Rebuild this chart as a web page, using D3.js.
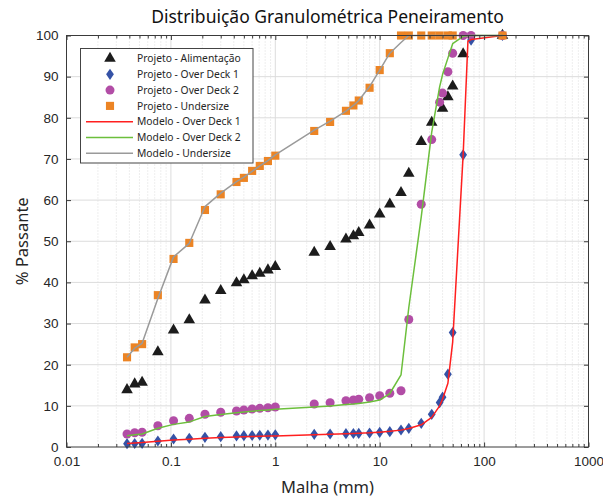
<!DOCTYPE html>
<html>
<head>
<meta charset="utf-8">
<script src="https://cdn.jsdelivr.net/npm/d3@7"></script>
<style>
  html, body { margin: 0; padding: 0; background: #fff; }
  svg { display: block; font-family: "Noto Sans", "Open Sans", sans-serif; }
</style>
</head>
<body>
<svg id="chart" width="603" height="497"></svg>
<script>
// Sieve openings (mm) and % passing for each stream
const sievesFine = [0.038, 0.045, 0.053, 0.075, 0.106, 0.150, 0.212, 0.300, 0.425, 0.500, 0.600, 0.710, 0.850, 1.00];
const sievesCoarse = [2.36, 3.35, 4.75, 5.60, 6.30, 8.00, 10.0, 12.5, 16.0, 19.0, 25.0, 31.5];

const alimX = [...sievesFine, ...sievesCoarse, 40.0, 45.0, 50.0, 63.0, 150];
const alimY = [13.9, 15.3, 15.7, 23.1, 28.4, 30.9, 35.7, 38.0, 39.9, 40.6, 41.6, 42.2, 43.0, 43.8,
               47.3, 48.7, 50.5, 51.3, 52.1, 53.9, 56.6, 59.0, 61.8, 66.5, 74.2, 78.9,
               82.3, 85.1, 87.7, 95.5, 100];

const od1X = [...sievesFine, ...sievesCoarse, 37.5, 40.0, 45.0, 50.0, 63.0, 75.0, 150];
const od1Y = [0.8, 0.85, 0.9, 1.46, 1.94, 2.1, 2.35, 2.5, 2.7, 2.75, 2.8, 2.85, 2.9, 2.95,
              3.08, 3.16, 3.24, 3.28, 3.3, 3.4, 3.56, 3.73, 4.13, 4.53, 5.75, 7.94,
              10.8, 12.1, 17.7, 27.8, 71.0, 98.9, 100];

const od2X = [...sievesFine, ...sievesCoarse, 37.5, 40.0, 45.0, 50.0, 63.0, 75.0, 150];
const od2Y = [3.16, 3.47, 3.57, 5.18, 6.39, 6.97, 7.95, 8.43, 8.75, 8.99, 9.23, 9.40, 9.55, 9.72,
              10.45, 10.77, 11.25, 11.42, 11.59, 11.98, 12.47, 13.05, 13.68, 31.0, 59.0, 74.7,
              83.8, 86.0, 91.2, 95.7, 100, 100, 100];

const underX = [...sievesFine, 2.36, 3.35, 4.75, 5.60, 6.30, 8.00, 10.0, 12.5, 16.0, 19.0, 25.0, 31.5, 37.5, 45.0, 50.0, 150];
const underY = [21.8, 24.2, 25.0, 36.9, 45.7, 49.6, 57.6, 61.4, 64.4, 65.4, 67.1, 68.3, 69.5, 70.8,
                76.8, 79.0, 81.7, 83.0, 84.2, 87.3, 91.6, 95.7, 100, 100, 100, 100, 100, 100, 100, 100];

// Model curves
const modelOd1X = [...sievesFine, ...sievesCoarse, 37.5, 40.0, 45.0, 50.0, 63.0, 70.0, 75.0, 150];
const modelOd1Y = [0.85, 1.0, 1.1, 1.4, 1.7, 1.9, 2.1, 2.3, 2.45, 2.5, 2.55, 2.6, 2.65, 2.7,
                   3.0, 3.1, 3.25, 3.3, 3.35, 3.45, 3.6, 3.8, 4.1, 4.5, 5.4, 7.2,
                   10.0, 11.6, 15.5, 25.5, 71.0, 98.6, 99.0, 100];

const modelOd2X = [...sievesFine, ...sievesCoarse, 37.5, 40.0, 45.0, 50.0, 63.0, 75.0, 150];
const modelOd2Y = [2.75, 3.0, 3.15, 4.55, 5.5, 6.1, 7.4, 7.9, 8.3, 8.5, 8.7, 8.85, 9.0, 9.15,
                   9.7, 9.95, 10.3, 10.45, 10.6, 10.95, 11.4, 13.0, 17.5, 33.9, 55.9, 76.5,
                   87.5, 90.5, 94.5, 98.0, 99.8, 100, 100];

const modelUnderX = [...sievesFine, ...sievesCoarse, 37.5, 45.0, 50.0, 150];
const modelUnderY = [21.8, 24.0, 25.2, 36.1, 46.2, 49.5, 58.4, 61.7, 64.5, 65.6, 67.0, 68.3, 69.6, 71.0,
                     77.0, 79.2, 81.6, 83.0, 84.2, 87.6, 91.6, 95.7, 98.3, 100, 100, 100,
                     100, 100, 100, 100];

const xTicks = [0.01, 0.1, 1, 10, 100, 1000];
const xTickLabels = ["0.01", "0.1", "1", "10", "100", "1000"];
const yTicks = [0, 10, 20, 30, 40, 50, 60, 70, 80, 90, 100];

const titleText = "Distribuição Granulométrica Peneiramento";
const xLabel = "Malha (mm)";
const yLabel = "% Passante";

const legendNames = [
  "Projeto - Alimentação", "Projeto - Over Deck 1", "Projeto - Over Deck 2", "Projeto - Undersize",
  "Modelo - Over Deck 1", "Modelo - Over Deck 2", "Modelo - Undersize"
];

// ---- layout ----
const L = 66.5, R = 588.5, T = 35.5, B = 447;
const svg = d3.select("#chart");
const x = d3.scaleLog().domain([0.01, 1000]).range([L, R]);
const y = d3.scaleLinear().domain([0, 100]).range([B, T]);

const axisColor = "#3a3a3a";
const textColor = "#262626";

// minor positions 2..9 x 10^k
const minorTicks = [];
for (let k = -2; k < 3; k++) for (let m = 2; m <= 9; m++) minorTicks.push(m * Math.pow(10, k));

// grid
const grid = svg.append("g");
grid.selectAll(".minor").data(minorTicks).join("line")
  .attr("x1", d => x(d)).attr("x2", d => x(d)).attr("y1", T).attr("y2", B)
  .attr("stroke", "#d4d4d4").attr("stroke-width", 0.8).attr("stroke-dasharray", "1,2");
grid.selectAll(".majx").data(xTicks.slice(1, -1)).join("line")
  .attr("x1", d => x(d)).attr("x2", d => x(d)).attr("y1", T).attr("y2", B)
  .attr("stroke", "#dcdcdc").attr("stroke-width", 1);
grid.selectAll(".majy").data(yTicks.slice(1, -1)).join("line")
  .attr("x1", L).attr("x2", R).attr("y1", d => y(d)).attr("y2", d => y(d))
  .attr("stroke", "#dcdcdc").attr("stroke-width", 1);

// ---- markers ----
const sym = (type, size) => d3.symbol().type(type).size(size)();
function drawMarkers(xs, ys, path, color) {
  svg.append("g").selectAll("path").data(xs.map((d, i) => [d, ys[i]])).join("path")
    .attr("d", path)
    .attr("transform", d => `translate(${x(d[0])},${y(d[1])})`)
    .attr("fill", color);
}
const triPath = sym(d3.symbolTriangle, 58);
const diaPath = "M0,-5.6L3.9,0L0,5.6L-3.9,0Z";
const circPath = sym(d3.symbolCircle, 64);
const sqPath = sym(d3.symbolSquare, 66);

const cTri = "#1c1c1c", cDia = "#3552a6", cCirc = "#b24da6", cSq = "#ec8424";
const cRed = "#ff1f1f", cGreen = "#6cbf3c", cGray = "#9a9a9a";

drawMarkers(alimX, alimY, triPath, cTri);
drawMarkers(od1X, od1Y, diaPath, cDia);
drawMarkers(od2X, od2Y, circPath, cCirc);
drawMarkers(underX, underY, sqPath, cSq);

// ---- model lines ----
const line = d3.line().x(d => x(d[0])).y(d => y(d[1]));
function drawLine(xs, ys, color) {
  svg.append("path").datum(xs.map((d, i) => [d, ys[i]]))
    .attr("d", line).attr("fill", "none").attr("stroke", color)
    .attr("stroke-width", 1.5).attr("stroke-linejoin", "round");
}
drawLine(modelOd1X, modelOd1Y, cRed);
drawLine(modelOd2X, modelOd2Y, cGreen);
drawLine(modelUnderX, modelUnderY, cGray);

// ---- axes (ticks pointing inward, box on) ----
function styleAxis(g) {
  g.select(".domain").remove();
  g.selectAll(".tick line").attr("stroke", axisColor);
  g.selectAll(".tick text").attr("fill", textColor).attr("font-size", 13.5);
}
svg.append("g").attr("transform", `translate(0,${B})`)
  .call(d3.axisBottom(x).tickValues(xTicks).tickFormat((d, i) => xTickLabels[i]).tickSize(-4.5).tickPadding(9))
  .call(styleAxis);
svg.append("g").attr("transform", `translate(0,${B})`)
  .call(d3.axisBottom(x).tickValues(minorTicks).tickFormat("").tickSize(-3))
  .call(styleAxis);
svg.append("g").attr("transform", `translate(0,${T})`)
  .call(d3.axisTop(x).tickValues(xTicks).tickFormat("").tickSize(-4.5))
  .call(styleAxis);
svg.append("g").attr("transform", `translate(0,${T})`)
  .call(d3.axisTop(x).tickValues(minorTicks).tickFormat("").tickSize(-3))
  .call(styleAxis);
svg.append("g").attr("transform", `translate(${L},0)`)
  .call(d3.axisLeft(y).tickValues(yTicks).tickFormat(d3.format("d")).tickSize(-4.5).tickPadding(8))
  .call(styleAxis);
svg.append("g").attr("transform", `translate(${R},0)`)
  .call(d3.axisRight(y).tickValues(yTicks).tickFormat("").tickSize(-4.5))
  .call(styleAxis);

svg.append("rect").attr("x", L).attr("y", T).attr("width", R - L).attr("height", B - T)
  .attr("fill", "none").attr("stroke", axisColor).attr("stroke-width", 1);

// ---- titles ----
svg.append("text").attr("x", (L + R) / 2).attr("y", 23).attr("text-anchor", "middle")
  .attr("font-size", 17.5).attr("fill", "#111").text(titleText);
svg.append("text").attr("x", (L + R) / 2).attr("y", 493).attr("text-anchor", "middle")
  .attr("font-size", 16.5).attr("fill", textColor).text(xLabel);
svg.append("text").attr("transform", `translate(28,${(T + B) / 2}) rotate(-90)`)
  .attr("text-anchor", "middle").attr("font-size", 16.5).attr("fill", textColor).text(yLabel);

// ---- legend ----
const lg = svg.append("g");
lg.append("rect").attr("x", 80.5).attr("y", 48.5).attr("width", 172.5).attr("height", 114.5)
  .attr("fill", "#fff").attr("stroke", "#444").attr("stroke-width", 1);
const rowY = i => 58.5 + i * 15.8;
const legendMarks = [
  {p: triPath, c: cTri}, {p: diaPath, c: cDia}, {p: circPath, c: cCirc}, {p: sqPath, c: cSq},
  {l: cRed}, {l: cGreen}, {l: cGray}
];
legendMarks.forEach((m, i) => {
  if (m.p) {
    lg.append("path").attr("d", m.p).attr("transform", `translate(110,${rowY(i)})`).attr("fill", m.c);
  } else {
    lg.append("line").attr("x1", 86).attr("x2", 133).attr("y1", rowY(i)).attr("y2", rowY(i))
      .attr("stroke", m.l).attr("stroke-width", 1.5);
  }
  lg.append("text").attr("x", 137).attr("y", rowY(i)).attr("dy", "0.35em")
    .attr("font-size", 10.3).attr("fill", textColor).text(legendNames[i]);
});
</script>
</body>
</html>
